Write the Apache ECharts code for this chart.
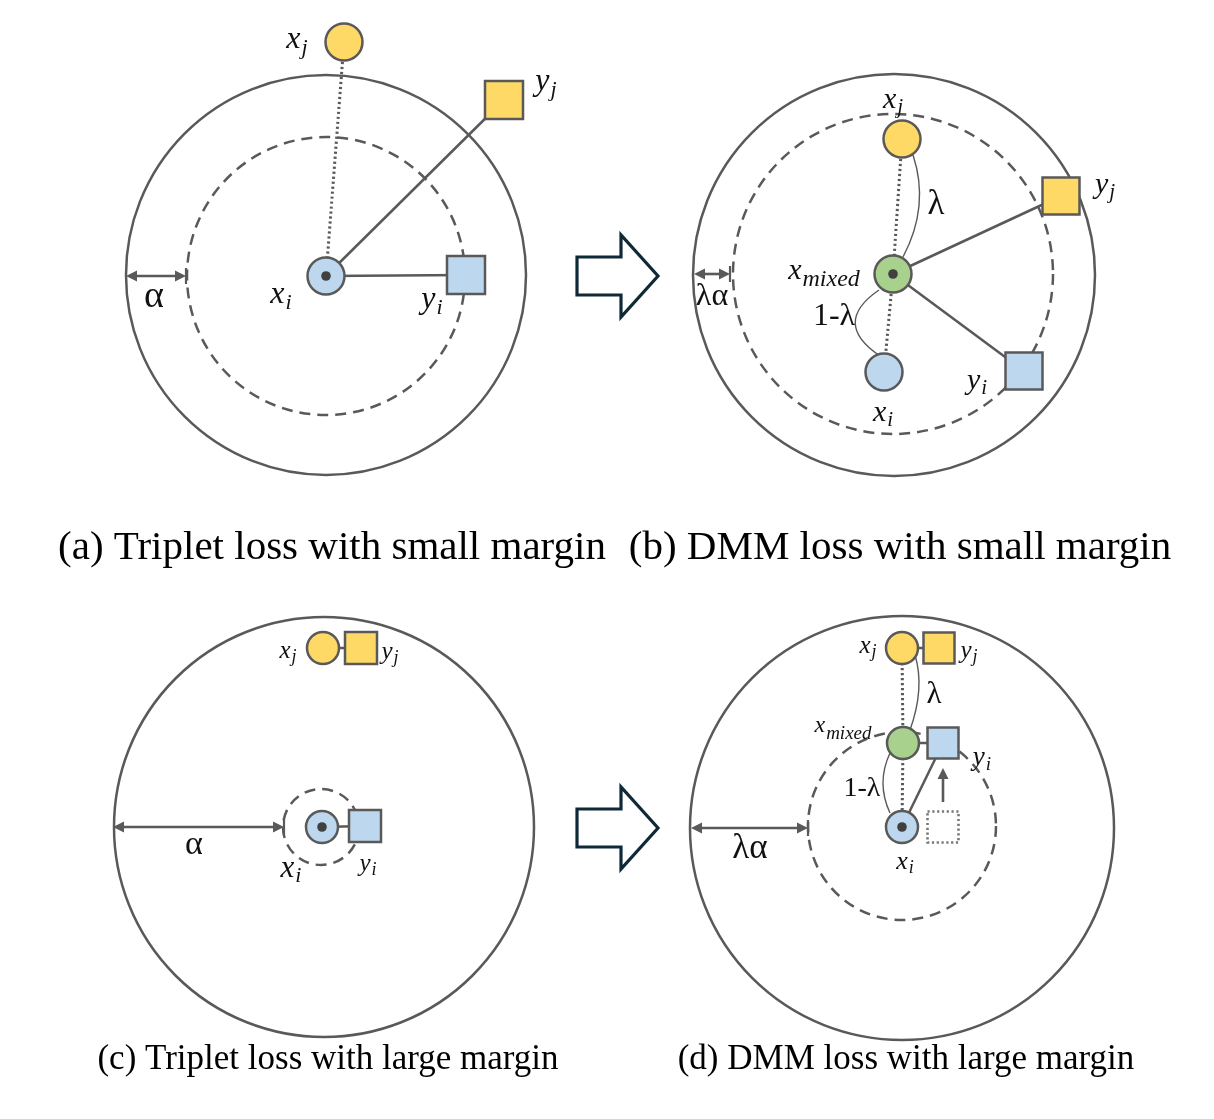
<!DOCTYPE html>
<html>
<head>
<meta charset="utf-8">
<script src="https://cdn.jsdelivr.net/npm/echarts@6/dist/echarts.min.js"></script>
<style>
  html, body { margin: 0; padding: 0; background: #fff; }
  #chart { width: 1214px; height: 1119px; }
</style>
</head>
<body>
<div id="chart"></div>
<script>
// ---------------- diagram data (page units, y grows downward) ----------------
// rings: centre x, centre y, radius, dashed (margin boundary)
const rings = [
  [326, 275, 200, 0], [326, 276, 139, 1],
  [894, 275, 201, 0], [893, 274, 160, 1],
  [324, 827, 210, 0], [321, 827, 38, 1],
  [902, 828, 212, 0], [902, 826, 94, 1]
];
// embeddings drawn as circles: x, y, role, centre dot, panel
const circleNodes = [
  [326, 276, 'xi', 1, 0], [344, 42, 'xj', 0, 0],
  [902, 139, 'xj', 0, 1], [893, 274, 'mix', 1, 1], [884, 372, 'xi', 0, 1],
  [322, 827, 'xi', 1, 2], [323, 648, 'xj', 0, 2],
  [902, 648, 'xj', 0, 3], [903, 743, 'mix', 0, 3], [902, 827, 'xi', 1, 3]
];
// embeddings drawn as squares: x, y, role, panel
const squareNodes = [
  [466, 275, 'yi', 0], [504, 100, 'yj', 0],
  [1061, 196, 'yj', 1], [1024, 371, 'yi', 1],
  [365, 826, 'yi', 2], [361, 648, 'yj', 2],
  [939, 648, 'yj', 3], [943, 743, 'yi', 3], [943, 827, 'old', 3]
];
// links: x1, y1, x2, y2, kind
const links = [
  [344, 42, 326, 276, 'dot'], [326, 276, 504, 100, 'solid'], [326, 276, 466, 275, 'solid'],
  [902, 139, 893, 274, 'dot'], [893, 274, 884, 372, 'dot'],
  [893, 274, 1061, 196, 'solid'], [893, 274, 1024, 371, 'solid'],
  [322, 827, 365, 826, 'solid'], [323, 648, 361, 648, 'solid'],
  [902, 648, 939, 648, 'solid'], [903, 743, 943, 743, 'solid'], [902, 827, 943, 743, 'solid'],
  [902, 648, 903, 743, 'dot'], [903, 743, 902, 827, 'dot']
];
// interpolation arcs: start, control, end
const arcs = [
  [913, 155, 930, 206, 903, 257],
  [879, 290, 831, 323, 880, 356],
  [915, 655, 925, 688, 910, 730],
  [890, 753, 876, 783, 890, 813]
];
// margin arrows: x from, x to, y
const marginArrows = [[126, 186, 276], [694, 730, 274], [113, 284, 827], [691, 808, 828]];
// y_i moves up
const moveArrows = [[943, 802, 943, 768]];
// big transition arrows: left x, mid y
const bigArrows = [[577, 276], [577, 828]];
// math labels: x, y, base, subscript, font size
const mathLabels = [
  [297, 40, 'x', 'j', 32], [546, 82, 'y', 'j', 32], [281, 295, 'x', 'i', 32], [432, 300, 'y', 'i', 32],
  [893, 100, 'x', 'j', 30], [1105, 185, 'y', 'j', 30], [824, 271, 'x', 'mixed', 30],
  [977, 381, 'y', 'i', 30], [883, 413, 'x', 'i', 30],
  [288, 651, 'x', 'j', 25], [390, 652, 'y', 'j', 25], [291, 869, 'x', 'i', 31], [368, 864, 'y', 'i', 25],
  [868, 646, 'x', 'j', 25], [969, 651, 'y', 'j', 25], [843, 726, 'x', 'mixed', 24],
  [982, 758, 'y', 'i', 27], [905, 862, 'x', 'i', 26]
];
// greek labels: x, y, text, font size
const greekLabels = [
  [154, 297, 'α', 38], [936, 205, 'λ', 35], [834, 317, '1-λ', 32], [712, 297, 'λα', 32],
  [194, 845, 'α', 34], [934, 695, 'λ', 31], [862, 789, '1-λ', 28], [750, 849, 'λα', 35]
];
// captions: x, y, text, font size
const captions = [
  [332, 548, '(a) Triplet loss with small margin', 41],
  [900, 548, '(b) DMM loss with small margin', 41],
  [328, 1060, '(c) Triplet loss with large margin', 35],
  [906, 1060, '(d) DMM loss with large margin', 35]
];

// ---------------- styles ----------------
const lineCol = '#595959';
const fills = { xi: '#BDD7EE', yi: '#BDD7EE', xj: '#FFD966', yj: '#FFD966', mix: '#A9D18E', old: '#fff' };
const circleR = [18.5, 18.5, 16, 16];
const squareS = [38, 37, 32, 31];
const serif = '"Liberation Serif", "Times New Roman", serif';

const chart = echarts.init(document.getElementById('chart'));

function pt(api, x, y) { return api.coord([x, y]); }

function headPts(api, tipX, tipY, dx, dy) {
  // triangular arrow head pointing along (dx,dy)
  const len = 11, half = 5.5;
  const bx = tipX - dx * len, by = tipY - dy * len;
  return [pt(api, tipX, tipY), pt(api, bx - dy * half, by + dx * half), pt(api, bx + dy * half, by - dx * half)];
}

const series = [
  {
    type: 'custom', z: 1,
    data: rings.map(r => [r[0], r[1], r[2]]),
    renderItem(params, api) {
      const c = api.coord([api.value(0), api.value(1)]);
      const r = api.size([api.value(2), 0])[0];
      const dashed = rings[params.dataIndex][3];
      return {
        type: 'circle', shape: { cx: c[0], cy: c[1], r: r },
        style: { fill: 'none', stroke: lineCol, lineWidth: 2.5, lineDash: dashed ? [11, 7] : null }
      };
    }
  },
  {
    type: 'custom', z: 2,
    data: links.map(l => [l[0], l[1], l[2], l[3]]),
    renderItem(params, api) {
      const a = api.coord([api.value(0), api.value(1)]);
      const b = api.coord([api.value(2), api.value(3)]);
      const dotted = links[params.dataIndex][4] === 'dot';
      return {
        type: 'line', shape: { x1: a[0], y1: a[1], x2: b[0], y2: b[1] },
        style: { stroke: lineCol, lineWidth: dotted ? 3 : 2.5, lineDash: dotted ? [2.2, 2.8] : null }
      };
    }
  },
  {
    type: 'custom', z: 2,
    data: arcs.map(a => [a[0], a[1], a[2], a[3], a[4], a[5]]),
    renderItem(params, api) {
      const p0 = api.coord([api.value(0), api.value(1)]);
      const c = api.coord([api.value(2), api.value(3)]);
      const p1 = api.coord([api.value(4), api.value(5)]);
      return {
        type: 'bezierCurve',
        shape: { x1: p0[0], y1: p0[1], cpx1: c[0], cpy1: c[1], x2: p1[0], y2: p1[1] },
        style: { fill: 'none', stroke: lineCol, lineWidth: 1.4 }
      };
    }
  },
  {
    type: 'custom', z: 2,
    data: marginArrows.map(m => [m[0], m[2], m[1]]),
    renderItem(params, api) {
      const x1 = api.value(0), y = api.value(1), x2 = api.value(2);
      const a = pt(api, x1 + 6, y), b = pt(api, x2 - 6, y);
      const t1 = pt(api, x2, y - 8), t2 = pt(api, x2, y + 8);
      return {
        type: 'group', children: [
          { type: 'line', shape: { x1: a[0], y1: a[1], x2: b[0], y2: b[1] }, style: { stroke: lineCol, lineWidth: 2.6 } },
          { type: 'polygon', shape: { points: headPts(api, x1, y, -1, 0) }, style: { fill: lineCol } },
          { type: 'polygon', shape: { points: headPts(api, x2, y, 1, 0) }, style: { fill: lineCol } },
          { type: 'line', shape: { x1: t1[0], y1: t1[1], x2: t2[0], y2: t2[1] }, style: { stroke: lineCol, lineWidth: 2.2 } }
        ]
      };
    }
  },
  {
    type: 'custom', z: 2,
    data: moveArrows.map(m => [m[0], m[1], m[2], m[3]]),
    renderItem(params, api) {
      const x1 = api.value(0), y1 = api.value(1), x2 = api.value(2), y2 = api.value(3);
      const a = pt(api, x1, y1), b = pt(api, x2, y2 + 8);
      return {
        type: 'group', children: [
          { type: 'line', shape: { x1: a[0], y1: a[1], x2: b[0], y2: b[1] }, style: { stroke: lineCol, lineWidth: 2.6 } },
          { type: 'polygon', shape: { points: headPts(api, x2, y2, 0, -1) }, style: { fill: lineCol } }
        ]
      };
    }
  },
  {
    type: 'custom', z: 2,
    data: bigArrows.map(b => [b[0], b[1]]),
    renderItem(params, api) {
      const x = api.value(0), y = api.value(1);
      const pts = [[x, y - 19], [x + 44, y - 19], [x + 44, y - 41], [x + 81, y],
                   [x + 44, y + 41], [x + 44, y + 19], [x, y + 19]].map(p => pt(api, p[0], p[1]));
      return { type: 'polygon', shape: { points: pts }, style: { fill: '#fff', stroke: '#0F2937', lineWidth: 3.2, lineJoin: 'miter' } };
    }
  },
  {
    type: 'custom', z: 3,
    data: squareNodes.map(s => [s[0], s[1]]),
    renderItem(params, api) {
      const n = squareNodes[params.dataIndex];
      const c = api.coord([api.value(0), api.value(1)]);
      const s = api.size([squareS[n[3]], 0])[0];
      const old = n[2] === 'old';
      return {
        type: 'rect', shape: { x: c[0] - s / 2, y: c[1] - s / 2, width: s, height: s },
        style: { fill: fills[n[2]], stroke: old ? '#777' : lineCol, lineWidth: old ? 2.6 : 2.5, lineDash: old ? [2.2, 2.6] : null }
      };
    }
  },
  {
    type: 'custom', z: 3,
    data: circleNodes.map(n => [n[0], n[1]]),
    renderItem(params, api) {
      const n = circleNodes[params.dataIndex];
      const c = api.coord([api.value(0), api.value(1)]);
      const r = api.size([circleR[n[4]], 0])[0];
      const kids = [{ type: 'circle', shape: { cx: c[0], cy: c[1], r: r }, style: { fill: fills[n[2]], stroke: lineCol, lineWidth: 2.5 } }];
      if (n[3]) kids.push({ type: 'circle', shape: { cx: c[0], cy: c[1], r: 4.8 }, style: { fill: '#404040' } });
      return { type: 'group', children: kids };
    }
  },
  {
    type: 'custom', z: 4,
    data: mathLabels.map(l => [l[0], l[1]]),
    renderItem(params, api) {
      const l = mathLabels[params.dataIndex];
      const c = api.coord([api.value(0), api.value(1)]);
      const B = l[4];
      const S = Math.round(B * (l[3].length > 1 ? 0.8 : 0.7));
      return {
        type: 'text', x: c[0], y: c[1],
        style: {
          text: '{b|' + l[2] + '}{s|' + l[3] + '}',
          align: 'center', verticalAlign: 'middle',
          rich: {
            b: { fontFamily: serif, fontStyle: 'italic', fontSize: B, lineHeight: B, verticalAlign: 'top', fill: '#111' },
            s: { fontFamily: serif, fontStyle: 'italic', fontSize: S, lineHeight: S, verticalAlign: 'top', padding: [Math.round(B * 0.4), 0, 0, 1], fill: '#111' }
          }
        }
      };
    }
  },
  {
    type: 'custom', z: 4,
    data: greekLabels.map(g => [g[0], g[1]]),
    renderItem(params, api) {
      const g = greekLabels[params.dataIndex];
      const c = api.coord([api.value(0), api.value(1)]);
      return {
        type: 'text', x: c[0], y: c[1],
        style: { text: g[2], fontFamily: serif, fontSize: g[3], fill: '#111', align: 'center', verticalAlign: 'middle' }
      };
    }
  },
  {
    type: 'custom', z: 4,
    data: captions.map(t => [t[0], t[1]]),
    renderItem(params, api) {
      const t = captions[params.dataIndex];
      const c = api.coord([api.value(0), api.value(1)]);
      return {
        type: 'text', x: c[0], y: c[1],
        style: { text: t[2], fontFamily: serif, fontSize: t[3], fill: '#000', align: 'center', verticalAlign: 'middle' }
      };
    }
  }
];

chart.setOption({
  animation: false,
  backgroundColor: '#fff',
  grid: { left: 0, right: 0, top: 0, bottom: 0 },
  xAxis: { type: 'value', min: 0, max: 1214, show: false },
  yAxis: { type: 'value', min: 0, max: 1119, inverse: true, show: false },
  series: series.map(s => Object.assign({ coordinateSystem: 'cartesian2d', clip: false, silent: true }, s))
});

window.addEventListener('resize', function() { chart.resize(); });
</script>
</body>
</html>
